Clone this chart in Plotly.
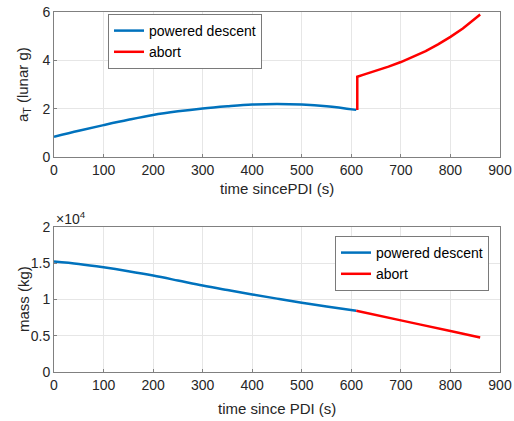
import plotly.graph_objects as go

# ---- data ----
t_pd_acc = [0, 50, 100, 150, 200, 250, 300, 350, 400, 450, 500, 550, 610]
a_pd = [0.84, 1.09, 1.32, 1.54, 1.74, 1.89, 2.01, 2.10, 2.17, 2.19, 2.17, 2.10, 1.95]
t_ab_acc = [612, 612, 625, 650, 675, 700, 725, 750, 775, 800, 825, 850, 860]
a_ab = [1.95, 3.32, 3.41, 3.57, 3.74, 3.93, 4.14, 4.38, 4.66, 4.97, 5.32, 5.72, 5.90]

t_pd_m = [0, 50, 100, 150, 200, 250, 300, 350, 400, 450, 500, 550, 610]
m_pd = [15240, 14900, 14440, 13900, 13300, 12620, 11920, 11300, 10700, 10120, 9560, 9050, 8450]
t_ab_m = [610, 700, 800, 860]
m_ab = [8450, 7120, 5650, 4760]

x_ticks = [0, 100, 200, 300, 400, 500, 600, 700, 800, 900]
a_ticks = [0, 2, 4, 6]
m_ticks = [0, 5000, 10000, 15000, 20000]
m_ticktext = ["0", "0.5", "1", "1.5", "2"]

BLUE = "#0072BD"
RED = "#FF0000"
FONT = "Liberation Sans, Arial, sans-serif"
TXT = "#262626"

fig = go.Figure()
fig.add_trace(go.Scatter(x=t_pd_acc, y=a_pd, mode="lines", name="powered descent",
                         line=dict(color=BLUE, width=2.5, shape="spline"),
                         xaxis="x", yaxis="y", legend="legend"))
fig.add_trace(go.Scatter(x=t_ab_acc, y=a_ab, mode="lines", name="abort",
                         line=dict(color=RED, width=2.5),
                         xaxis="x", yaxis="y", legend="legend"))
fig.add_trace(go.Scatter(x=t_pd_m, y=m_pd, mode="lines", name="powered descent",
                         line=dict(color=BLUE, width=2.5, shape="spline"),
                         xaxis="x2", yaxis="y2", legend="legend2"))
fig.add_trace(go.Scatter(x=t_ab_m, y=m_ab, mode="lines", name="abort",
                         line=dict(color=RED, width=2.5, shape="spline"),
                         xaxis="x2", yaxis="y2", legend="legend2"))

W, H = 514, 421
x0, x1 = 54 / W, 500 / W

axis_common = dict(showline=True, mirror=True, linecolor="#808080", linewidth=1,
                   showgrid=True, gridcolor="#e6e6e6", gridwidth=1, zeroline=False,
                   ticks="inside", ticklen=3, tickcolor="#808080", automargin=False,
                   tickfont=dict(family=FONT, size=14, color=TXT))

fig.update_layout(
    width=W, height=H,
    margin=dict(l=0, r=0, t=0, b=0, autoexpand=False),
    paper_bgcolor="white", plot_bgcolor="white",
    showlegend=True,
    xaxis=dict(domain=[x0, x1], range=[0, 900], tickvals=x_ticks, anchor="y", **axis_common),
    yaxis=dict(domain=[1 - 157 / H, 1 - 12 / H], range=[0, 6], tickvals=a_ticks, anchor="x", **axis_common),
    xaxis2=dict(domain=[x0, x1], range=[0, 900], tickvals=x_ticks, anchor="y2", **axis_common),
    yaxis2=dict(domain=[1 - 372 / H, 1 - 227 / H], range=[0, 20000], tickvals=m_ticks,
                ticktext=m_ticktext, anchor="x2", **axis_common),
    legend=dict(x=108 / W, y=1 - 14 / H, xanchor="left", yanchor="top",
                bgcolor="white", bordercolor="#7a7a7a", borderwidth=1,
                font=dict(family=FONT, size=14, color="black"),
                tracegroupgap=0, itemwidth=30),
    legend2=dict(x=335 / W, y=1 - 236 / H, xanchor="left", yanchor="top",
                 bgcolor="white", bordercolor="#7a7a7a", borderwidth=1,
                 font=dict(family=FONT, size=14, color="black"),
                 tracegroupgap=0, itemwidth=30),
)

ann_font = dict(family=FONT, size=15, color=TXT)
fig.add_annotation(text="time sincePDI (s)", x=277 / W, y=1 - 189 / H, xref="paper", yref="paper",
                   showarrow=False, font=ann_font, xanchor="center", yanchor="middle")
fig.add_annotation(text="time since PDI (s)", x=277 / W, y=1 - 408 / H, xref="paper", yref="paper",
                   showarrow=False, font=ann_font, xanchor="center", yanchor="middle")
fig.add_annotation(text="a<sub>T</sub> (lunar g)", x=23 / W, y=1 - 85 / H, xref="paper", yref="paper",
                   showarrow=False, font=ann_font, textangle=-90, xanchor="center", yanchor="middle")
fig.add_annotation(text="mass (kg)", x=23 / W, y=1 - 299 / H, xref="paper", yref="paper",
                   showarrow=False, font=ann_font, textangle=-90, xanchor="center", yanchor="middle")
fig.add_annotation(text="\u00d710<sup>4</sup>", x=54 / W, y=1 - 218 / H, xref="paper", yref="paper",
                   showarrow=False, font=dict(family=FONT, size=14, color=TXT),
                   xanchor="left", yanchor="middle")

fig.write_html("out.html")
